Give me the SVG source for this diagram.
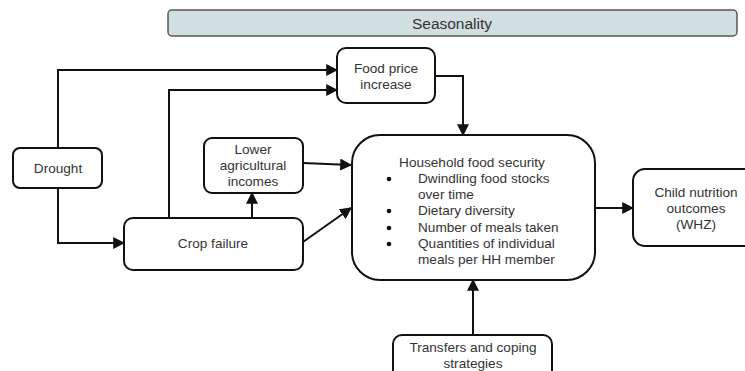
<svg xmlns="http://www.w3.org/2000/svg" width="745" height="371" viewBox="0 0 745 371">
<style>
.box{fill:#fff;stroke:#111;stroke-width:2}
.t{font-family:"Liberation Sans",Arial,sans-serif;font-size:13.6px;fill:#333;text-anchor:middle}
.l{font-family:"Liberation Sans",Arial,sans-serif;font-size:13.6px;fill:#333}
.c{fill:none;stroke:#111;stroke-width:2}
</style>
<defs>
<marker id="a" viewBox="0 0 10 10" refX="9" refY="5" markerWidth="6" markerHeight="6" orient="auto" markerUnits="strokeWidth">
<path d="M0,0 L10,5 L0,10 z" fill="#111"/>
</marker>
</defs>
<rect width="745" height="371" fill="#fff"/>
<g id="seasonality">
<rect x="168" y="10" width="569" height="26" rx="4" fill="#d1dfe1" stroke="#555" stroke-width="1.5"/>
<text x="452" y="29" class="t" style="font-size:15.5px">Seasonality</text>
</g>
<g id="connectors">
<path class="c" d="M58,148 V70 H337" marker-end="url(#a)"/>
<path class="c" d="M169,218 V90 H337" marker-end="url(#a)"/>
<path class="c" d="M58,188 V243 H124" marker-end="url(#a)"/>
<path class="c" d="M252,218 V193" marker-end="url(#a)"/>
<path class="c" d="M303,163 L351,165" marker-end="url(#a)"/>
<path class="c" d="M303,242 L351,208" marker-end="url(#a)"/>
<path class="c" d="M435,76 H463 V135" marker-end="url(#a)"/>
<path class="c" d="M595,208 H633" marker-end="url(#a)"/>
<path class="c" d="M473,335 V280" marker-end="url(#a)"/>
</g>
<g id="food-price">
<rect class="box" x="337" y="48" width="98" height="55" rx="9"/>
<text class="t" x="386" y="73">Food price</text>
<text class="t" x="386" y="89">increase</text>
</g>
<g id="drought">
<rect class="box" x="13" y="148" width="89" height="40" rx="7"/>
<text class="t" x="58" y="173">Drought</text>
</g>
<g id="lower-incomes">
<rect class="box" x="204" y="138" width="99" height="55" rx="8"/>
<text class="t" x="253" y="154">Lower</text>
<text class="t" x="253" y="170">agricultural</text>
<text class="t" x="253" y="186">incomes</text>
</g>
<g id="crop-failure">
<rect class="box" x="124" y="218" width="179" height="52" rx="9"/>
<text class="t" x="213" y="248">Crop failure</text>
</g>
<g id="household-food-security">
<rect class="box" x="352" y="135" width="243" height="145" rx="28"/>
<text class="t" x="472" y="167">Household food security</text>
<g class="l">
<circle cx="389" cy="179" r="2.3" fill="#111"/>
<circle cx="389" cy="211" r="2.3" fill="#111"/>
<circle cx="389" cy="228" r="2.3" fill="#111"/>
<circle cx="389" cy="244" r="2.3" fill="#111"/>
<text x="418" y="183">Dwindling food stocks</text>
<text x="418" y="199">over time</text>
<text x="418" y="215">Dietary diversity</text>
<text x="418" y="232">Number of meals taken</text>
<text x="418" y="248">Quantities of individual</text>
<text x="418" y="264">meals per HH member</text>
</g>
</g>
<g id="child-nutrition">
<rect class="box" x="633" y="169" width="130" height="77" rx="12"/>
<text class="t" x="696" y="197">Child nutrition</text>
<text class="t" x="696" y="213">outcomes</text>
<text class="t" x="696" y="229">(WHZ)</text>
</g>
<g id="transfers">
<rect class="box" x="393" y="335" width="159" height="50" rx="9"/>
<text class="t" x="473" y="352">Transfers and coping</text>
<text class="t" x="473" y="368">strategies</text>
</g>
</svg>
